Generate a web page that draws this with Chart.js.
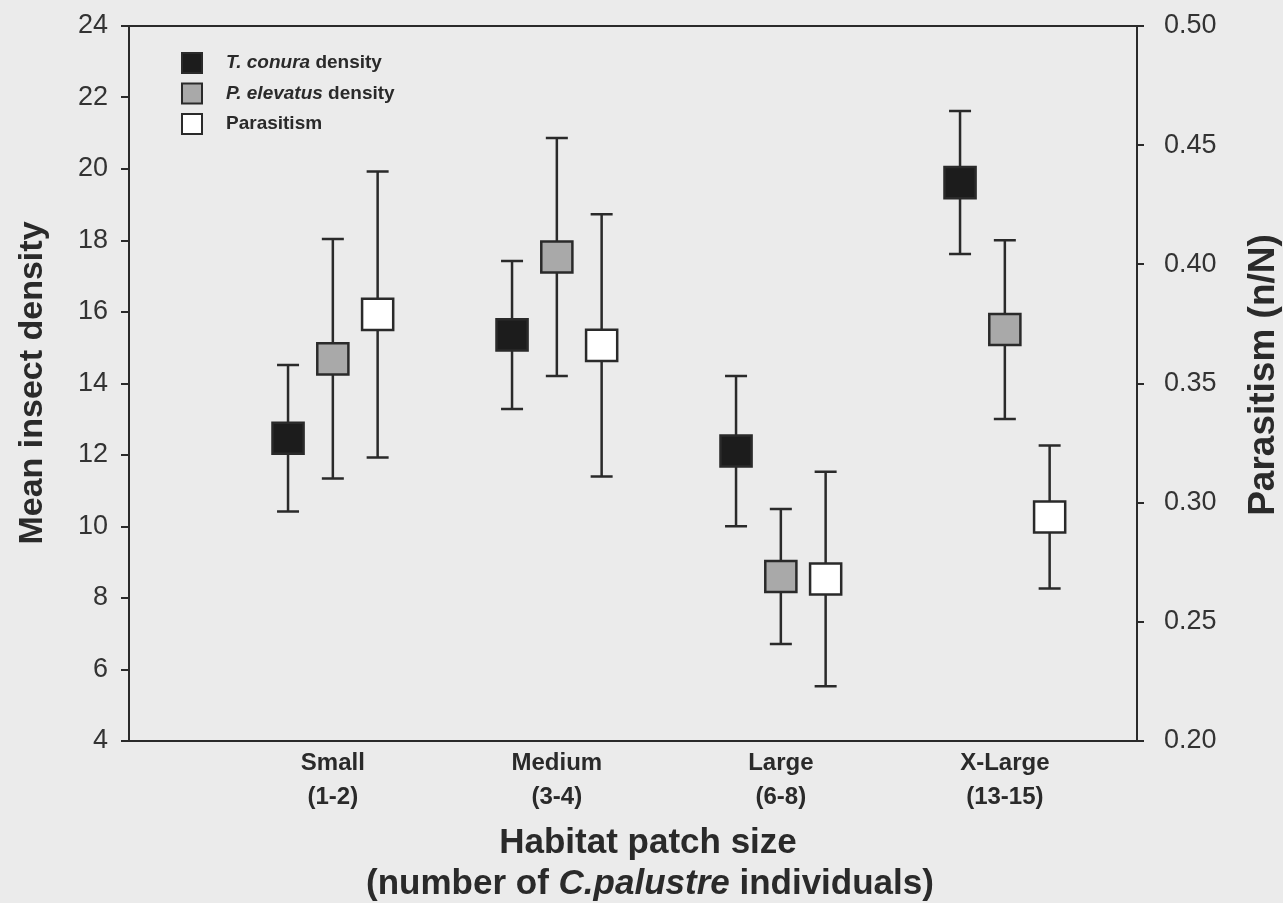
<!DOCTYPE html>
<html>
<head>
<meta charset="utf-8">
<script src="https://cdn.jsdelivr.net/npm/chart.js@4/dist/chart.umd.min.js"></script>
<style>
  html, body { margin: 0; padding: 0; background: #ebebeb; }
  #wrap { width: 1283px; height: 903px; position: relative; }
</style>
</head>
<body>
<div id="wrap"><canvas id="myChart" width="1283" height="903"></canvas></div>
<script>
// patch size classes (x axis)
var categories = [['Small', '(1-2)'], ['Medium', '(3-4)'], ['Large', '(6-8)'], ['X-Large', '(13-15)']];

// T. conura density, mean and error
var conuraMean = [12.47, 15.36, 12.11, 19.62];
var conuraErr = [2.05, 2.07, 2.10, 2.00];

// P. elevatus density, mean and error
var elevatusMean = [14.69, 17.54, 8.60, 15.51];
var elevatusErr = [3.35, 3.33, 1.89, 2.50];

// parasitism rate (right axis), mean and error
var parasitismMean = [0.379, 0.366, 0.268, 0.294];
var parasitismErr = [0.060, 0.055, 0.045, 0.030];

var leftTicks = [4, 6, 8, 10, 12, 14, 16, 18, 20, 22, 24];
var rightTicks = [0.20, 0.25, 0.30, 0.35, 0.40, 0.45, 0.50];

var FONT = "'Liberation Sans', Arial, sans-serif";
var INK = '#2a2a2a';

function toPoints(values, shift) {
    var pts = [];
    for (i = 0; i < values.length; i++) {
        pts.push({ x: i + 1 + shift, y: values[i] });
    }
    return pts;
}

// vertical error bars with caps, drawn under the markers
var errorBars = {
    id: 'errorBars',
    beforeDatasetsDraw(chart) {
        var ctx = chart.ctx;
        ctx.save();
        ctx.strokeStyle = INK;
        ctx.lineWidth = 2.5;
        chart.data.datasets.forEach(function (ds, d) {
            var meta = chart.getDatasetMeta(d);
            var yScale = chart.scales[ds.yAxisID];
            meta.data.forEach(function (pt, i) {
                var v = ds.data[i].y;
                var top = yScale.getPixelForValue(v + ds.errors[i]);
                var bot = yScale.getPixelForValue(v - ds.errors[i]);
                ctx.beginPath();
                ctx.moveTo(pt.x, top);
                ctx.lineTo(pt.x, bot);
                ctx.moveTo(pt.x - 11, top);
                ctx.lineTo(pt.x + 11, top);
                ctx.moveTo(pt.x - 11, bot);
                ctx.lineTo(pt.x + 11, bot);
                ctx.stroke();
            });
        });
        ctx.restore();
    }
};

// draws a line of text made of [text, italic] parts
function mixedText(ctx, parts, cx, cy, size) {
    var total = 0;
    parts.forEach(function (p) {
        ctx.font = (p[1] ? 'italic ' : '') + 'bold ' + size + 'px ' + FONT;
        total += ctx.measureText(p[0]).width;
    });
    var x = cx - total / 2;
    parts.forEach(function (p) {
        ctx.font = (p[1] ? 'italic ' : '') + 'bold ' + size + 'px ' + FONT;
        ctx.fillText(p[0], x, cy);
        x += ctx.measureText(p[0]).width;
    });
}

// frame top, axis titles and the legend box
var decorations = {
    id: 'decorations',
    afterDraw(chart) {
        var ctx = chart.ctx;
        var a = chart.chartArea;
        ctx.save();
        ctx.strokeStyle = INK;
        ctx.lineWidth = 2;
        ctx.beginPath();
        ctx.moveTo(a.left, a.top);
        ctx.lineTo(a.right, a.top);
        ctx.stroke();

        ctx.fillStyle = INK;
        ctx.textAlign = 'left';
        ctx.textBaseline = 'middle';

        // x title
        mixedText(ctx, [['Habitat patch size', false]], 648, 843, 35);
        mixedText(ctx, [['(number of ', false], ['C.palustre', true], [' individuals)', false]], 650, 884, 35);

        // y titles, both reading upward
        ctx.save();
        ctx.translate(33, 383);
        ctx.rotate(-Math.PI / 2);
        mixedText(ctx, [['Mean insect density', false]], 0, 0, 34);
        ctx.restore();
        ctx.save();
        ctx.translate(1264, 375);
        ctx.rotate(-Math.PI / 2);
        mixedText(ctx, [['Parasitism (n/N)', false]], 0, 0, 37);
        ctx.restore();

        // legend
        var items = [
            { fill: '#1c1c1c', parts: [['T. conura', true], [' density', false]] },
            { fill: '#a9a9a9', parts: [['P. elevatus', true], [' density', false]] },
            { fill: '#ffffff', parts: [['Parasitism', false]] }
        ];
        items.forEach(function (it, k) {
            var y = a.top + 37 + k * 30.5;
            ctx.fillStyle = it.fill;
            ctx.fillRect(a.left + 53, y - 10, 20, 20);
            ctx.lineWidth = 2;
            ctx.strokeStyle = INK;
            ctx.strokeRect(a.left + 53, y - 10, 20, 20);
            ctx.fillStyle = INK;
            var x = a.left + 97;
            it.parts.forEach(function (p) {
                ctx.font = (p[1] ? 'italic ' : '') + 'bold 19px ' + FONT;
                ctx.fillText(p[0], x, y);
                x += ctx.measureText(p[0]).width;
            });
        });
        ctx.restore();
    }
};

var marker = {
    pointStyle: 'rect',
    pointRadius: 22,
    pointHoverRadius: 22,
    borderColor: INK,
    borderWidth: 2.5,
    showLine: false
};

let myChart = document.getElementById('myChart').getContext('2d');

let patchChart = new Chart(myChart, {
    type: 'scatter',
    data: {
        datasets: [
            Object.assign({ label: 'T. conura density', data: toPoints(conuraMean, -0.2), errors: conuraErr, yAxisID: 'y', backgroundColor: '#1c1c1c' }, marker),
            Object.assign({ label: 'P. elevatus density', data: toPoints(elevatusMean, 0), errors: elevatusErr, yAxisID: 'y', backgroundColor: '#a9a9a9' }, marker),
            Object.assign({ label: 'Parasitism', data: toPoints(parasitismMean, 0.2), errors: parasitismErr, yAxisID: 'y1', backgroundColor: '#ffffff' }, marker)
        ]
    },
    options: {
        responsive: false,
        animation: false,
        layout: { padding: { top: 26, left: 0, right: 0, bottom: 0 } },
        plugins: {
            legend: { display: false },
            tooltip: { enabled: false }
        },
        scales: {
            x: {
                type: 'linear',
                min: 0.09,
                max: 4.59,
                afterBuildTicks: function (scale) {
                    scale.ticks = categories.map(function (c, i) { return { value: i + 1 }; });
                },
                afterFit: function (scale) {
                    scale.height = 903 - 741;
                    scale.paddingLeft = 0;
                    scale.paddingRight = 0;
                },
                grid: { display: false, drawTicks: false },
                border: { display: true, color: INK, width: 2 },
                ticks: {
                    padding: 5,
                    maxRotation: 0,
                    autoSkip: false,
                    color: INK,
                    font: { family: FONT, size: 24, weight: 'bold', lineHeight: 1.42 },
                    callback: function (v) { return categories[Math.round(v) - 1]; }
                }
            },
            y: {
                position: 'left',
                min: 4,
                max: 24,
                afterBuildTicks: function (scale) {
                    scale.ticks = leftTicks.map(function (v) { return { value: v }; });
                },
                afterFit: function (scale) {
                    scale.width = 129;
                    scale.paddingTop = 0;
                    scale.paddingBottom = 0;
                },
                grid: { drawOnChartArea: false, drawTicks: true, tickLength: 8, color: INK, lineWidth: 2 },
                border: { display: true, color: INK, width: 2 },
                ticks: { padding: 13, color: '#333', font: { family: FONT, size: 27 } }
            },
            y1: {
                position: 'right',
                min: 0.20,
                max: 0.50,
                afterBuildTicks: function (scale) {
                    scale.ticks = rightTicks.map(function (v) { return { value: v }; });
                },
                afterFit: function (scale) {
                    scale.width = 1283 - 1137;
                    scale.paddingTop = 0;
                    scale.paddingBottom = 0;
                },
                grid: { drawOnChartArea: false, drawTicks: true, tickLength: 7, color: INK, lineWidth: 2 },
                border: { display: true, color: INK, width: 2 },
                ticks: {
                    padding: 20,
                    color: '#333',
                    font: { family: FONT, size: 27 },
                    callback: function (v) { return v.toFixed(2); }
                }
            }
        }
    },
    plugins: [errorBars, decorations]
});
</script>
</body>
</html>
